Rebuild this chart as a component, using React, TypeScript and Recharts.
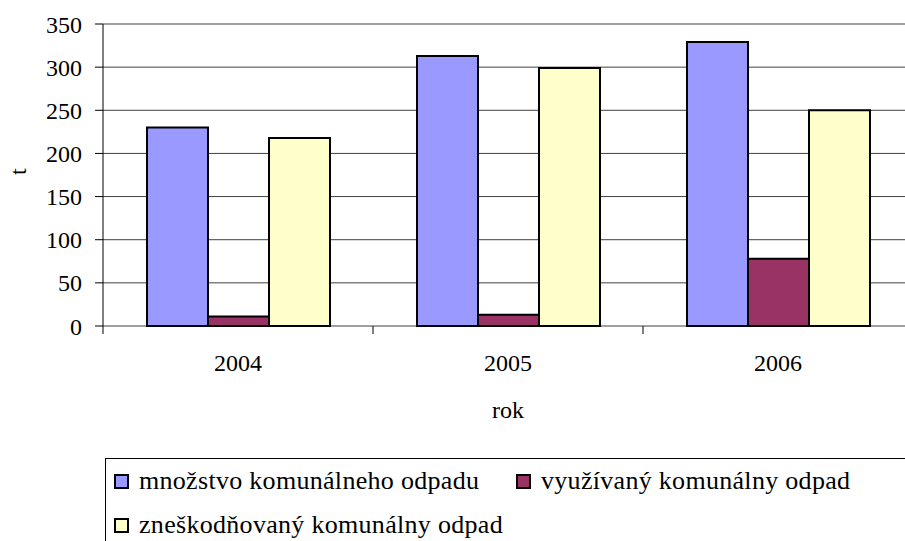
import { BarChart, Bar, XAxis, YAxis, CartesianGrid, Legend, Label } from "recharts";

const years = ["2004", "2005", "2006"];
const mnozstvo = [230, 313, 329];
const vyuzivany = [11, 13, 78];
const zneskodnovany = [218, 299, 250];
const yTicks = [0, 50, 100, 150, 200, 250, 300, 350];

const data = years.map((rok, i) => ({
  rok,
  mnozstvo: mnozstvo[i],
  vyuzivany: vyuzivany[i],
  zneskodnovany: zneskodnovany[i],
}));

const FONT = "Liberation Serif, DejaVu Serif, serif";
const TICK_MARGIN = 28;

// rok label + small tick mark at the left edge of each category band
function YearTick({ x, y, payload }: any) {
  const half = payload?.offset ?? 0;
  return (
    <g>
      <line x1={x - half} x2={x - half} y1={y - TICK_MARGIN} y2={y - TICK_MARGIN + 8} stroke="#000" />
      <text x={x} y={y} dy="0.71em" textAnchor="middle" fill="#000" fontSize={24} fontFamily={FONT}>
        {payload.value}
      </text>
    </g>
  );
}

function LegendBox({ payload }: any) {
  return (
    <div
      style={{
        border: "1px solid #000",
        boxSizing: "border-box",
        height: 130,
        paddingLeft: 8,
        display: "flex",
        flexWrap: "wrap",
        alignContent: "flex-start",
        fontFamily: FONT,
        fontSize: 26,
        letterSpacing: 0.3,
        color: "#000",
      }}
    >
      {(payload || []).map((p: any, i: number) => (
        <div
          key={i}
          style={{ width: i === 0 ? 402 : i === 1 ? 400 : 600, height: 44, display: "flex", alignItems: "center" }}
        >
          <span
            style={{
              display: "inline-block",
              width: 11,
              height: 11,
              background: p.color,
              border: "2px solid #000",
              marginRight: 10,
            }}
          />
          <span>{p.value}</span>
        </div>
      ))}
    </div>
  );
}

export default function App() {
  return (
    <div style={{ position: "absolute", left: 0, top: 0, width: 905, height: 541, overflow: "hidden", background: "#fff" }}>
      <BarChart
        width={930}
        height={541}
        data={data}
        margin={{ top: 24, right: 17, bottom: 0, left: 0 }}
        barCategoryGap={44}
        barGap={0}
      >
        <CartesianGrid vertical={false} stroke="#404040" />
        <XAxis
          dataKey="rok"
          height={215}
          axisLine={false}
          tickLine={false}
          tickSize={0}
          tickMargin={TICK_MARGIN}
          tick={<YearTick />}
        >
          <Label value="rok" position="insideTop" offset={75} fill="#000" fontSize={24} fontFamily={FONT} />
        </XAxis>
        <YAxis
          domain={[0, 350]}
          ticks={yTicks}
          width={103}
          stroke="#000"
          tickSize={8}
          tickMargin={13}
          tick={{ fill: "#000", fontSize: 24, fontFamily: FONT }}
        >
          <Label value="t" angle={-90} position="insideLeft" offset={17} fill="#000" fontSize={24} fontFamily={FONT} />
        </YAxis>
        <Legend
          layout="horizontal"
          verticalAlign="middle"
          align="center"
          wrapperStyle={{ top: 458, left: 105, width: 830, height: 130 }}
          content={<LegendBox />}
        />
        <Bar dataKey="mnozstvo" name="množstvo komunálneho odpadu" fill="#9999FF" stroke="#000" strokeWidth={2} isAnimationActive={false} />
        <Bar dataKey="vyuzivany" name="využívaný komunálny odpad" fill="#993366" stroke="#000" strokeWidth={2} isAnimationActive={false} />
        <Bar dataKey="zneskodnovany" name="zneškodňovaný komunálny odpad" fill="#FFFFCC" stroke="#000" strokeWidth={2} isAnimationActive={false} />
      </BarChart>
    </div>
  );
}
